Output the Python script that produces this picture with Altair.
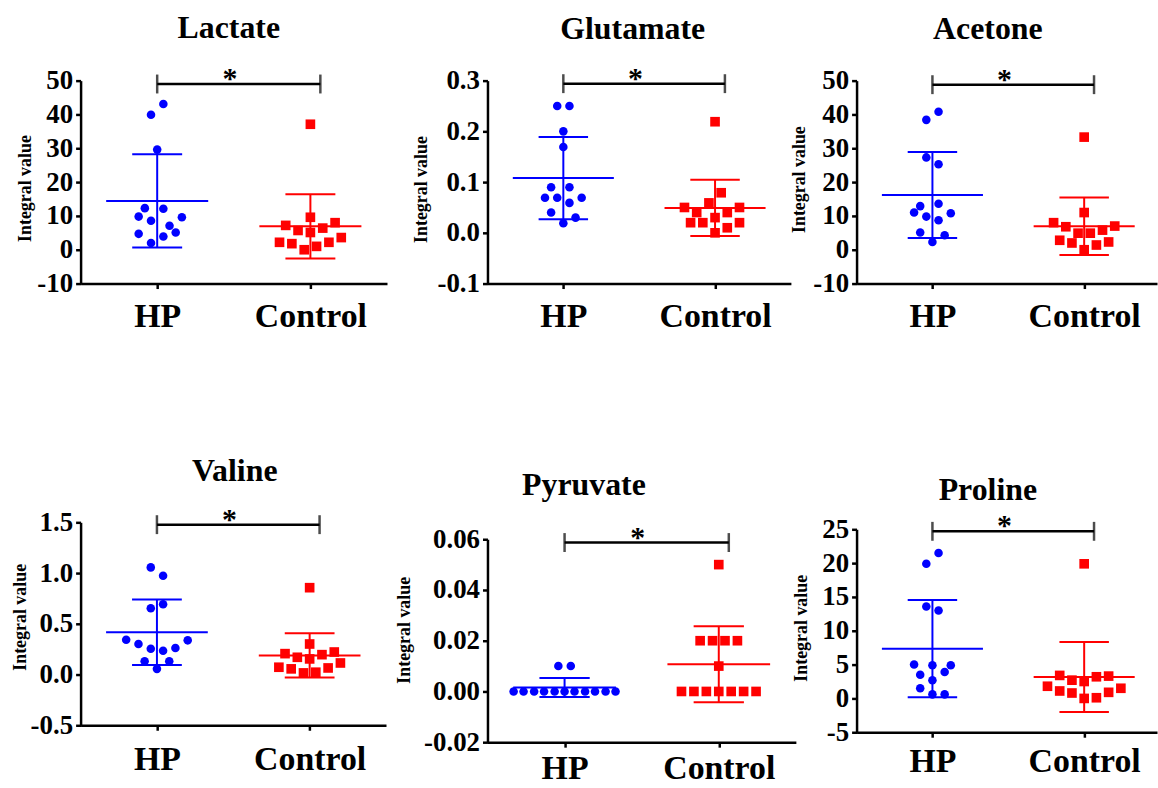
import altair as alt
import pandas as pd

# ---------------------------------------------------------------- groups
GROUPS = ["HP", "Control"]
GROUP_POS = [0.5, 1.5]

# ---------------------------------------------------------------- panel titles
titles = ["Lactate", "Glutamate", "Acetone", "Valine", "Pyruvate", "Proline"]

# ---------------------------------------------------------------- measurements
# each value comes with a swarm lane (horizontal slot of the dot around its group)
lactate_hp = [43.1, 39.9, 29.6, 12.3, 12.1, 9.8, 9.6, 8.6, 7.1, 4.7, 5.1, 3.9, 2.0]
lactate_hp_lane = [1, -1, 0, -2, 1, -3, 4, -1, 2, -3, 3, 1, -1]
lactate_ctl = [37.1, 9.6, 7.2, 8.0, 5.7, 6.4, 5.1, 2.2, 1.8, 2.2, 3.6, 0.0, 1.0]
lactate_ctl_lane = [0, 0, -4, 4, -2, 2, 0, -5, -3, 3, 5, -1, 1]

glutamate_hp = [0.250, 0.250, 0.200, 0.169, 0.090, 0.090, 0.069, 0.069, 0.069, 0.059, 0.040, 0.030, 0.019]
glutamate_hp_lane = [-1, 1, 0, 0, -2, 1, -3, -1, 3, 1, -2, 2, 0]
glutamate_ctl = [0.219, 0.079, 0.059, 0.050, 0.050, 0.040, 0.040, 0.030, 0.020, 0.020, 0.020, 0.010, 0.000]
glutamate_ctl_lane = [0, 1, -1, -5, 4, -3, 2, 0, -4, -2, 4, 2, 0]

acetone_hp = [40.8, 38.4, 27.3, 25.3, 12.9, 13.6, 11.0, 10.8, 9.8, 8.7, 5.1, 4.3, 2.3]
acetone_hp_lane = [1, -1, -1, 1, -2, 1, -3, 3, -1, 1, -2, 2, 0]
acetone_ctl = [33.3, 11.0, 8.0, 6.8, 7.0, 5.8, 4.9, 4.9, 2.8, 2.3, 2.0, 1.4, 0.0]
acetone_ctl_lane = [0, 0, -5, -3, 5, 3, -1, 1, -4, 4, -2, 2, 0]

valine_hp = [1.056, 0.974, 0.654, 0.693, 0.343, 0.337, 0.301, 0.261, 0.255, 0.235, 0.131, 0.131, 0.056]
valine_hp_lane = [-1, 1, -1, 1, -5, 5, -3, 3, -1, 1, -2, 2, 0]
valine_ctl = [0.856, 0.301, 0.206, 0.222, 0.170, 0.196, 0.154, 0.114, 0.072, 0.056, 0.065, 0.016, 0.023]
valine_ctl_lane = [0, 0, -4, 4, -2, 2, 0, 5, -5, -3, 3, -1, 1]

pyruvate_hp = [0.010, 0.010, 0.000, 0.000, 0.000, 0.000, 0.000, 0.000, 0.000, 0.000, 0.000, 0.000, 0.000]
pyruvate_hp_lane = [-1, 1, -8.2, -6.6, -4.9, -3.3, -1.6, 0, 1.6, 3.3, 4.9, 6.6, 8.2]
pyruvate_ctl = [0.050, 0.020, 0.020, 0.020, 0.020, 0.010, 0.000, 0.000, 0.000, 0.000, 0.000, 0.000, 0.000]
pyruvate_ctl_lane = [0, -3, -1, 1, 3, 0, -6, -4, -2, 0, 2, 4, 6]

proline_hp = [21.5, 19.9, 13.6, 13.0, 5.0, 4.9, 4.9, 3.5, 3.9, 2.7, 1.5, 0.6, 0.6]
proline_hp_lane = [1, -1, -1, 1, -3, 0, 3, -2, 2, 0, -2, 0, 2]
proline_ctl = [19.9, 3.4, 2.7, 3.2, 3.3, 2.5, 1.8, 1.1, 0.8, 0.9, 1.5, 0.0, 0.1]
proline_ctl_lane = [0, -4, -2, 2, 4, 0, -6, -4, -2, 4, 6, 0, 2]

# ---------------------------------------------------------------- y tick labels
lactate_ticks = [-10, 0, 10, 20, 30, 40, 50]
glutamate_ticks = [-0.1, 0.0, 0.1, 0.2, 0.3]
acetone_ticks = [-10, 0, 10, 20, 30, 40, 50]
valine_ticks = [-0.5, 0.0, 0.5, 1.0, 1.5]
pyruvate_ticks = [-0.02, 0.0, 0.02, 0.04, 0.06]
proline_ticks = [-5, 0, 5, 10, 15, 20, 25]

# significance bracket: height per panel and its label
bracket_levels = [49.0, 0.294, 48.8, 1.477, 0.0587, 24.7]
bracket_x = [0.5, 1.565]
star_x = 0.975
sig_label = "*"

# ---------------------------------------------------------------- styling
FONT = "Liberation Serif"
COLORS = ["#0000ff", "#ff0000"]
SHAPES = ["circle", "square"]
SIZES = [74, 94]
LANE = 0.0403        # x-units per swarm lane
MEAN_HALF = 0.333    # half width of the mean line (x-units)
CAP_HALF = 0.163     # half width of the SD caps (x-units)

# outer bounds of the three columns and two rows (px); columns overlap a little
COL_BOUNDS = [(0, 400), (370, 810), (780, 1158)]
ROW_BOUNDS = [(0, 350), (350, None)]

PANELS = [
    dict(hp=lactate_hp, hp_lane=lactate_hp_lane, ctl=lactate_ctl, ctl_lane=lactate_ctl_lane,
         ticks=lactate_ticks, fmt="d", box=(75, 79, 308, 204), col=0, row=0, xmax=2.0,
         title_at=(149, -43), ytitle_at=(-50, 108), xlabel_pad=38),
    dict(hp=glutamate_hp, hp_lane=glutamate_hp_lane, ctl=glutamate_ctl, ctl_lane=glutamate_ctl_lane,
         ticks=glutamate_ticks, fmt=".1f", box=(484, 78, 305, 204), col=1, row=0, xmax=2.0,
         title_at=(146, -42), ytitle_at=(-61, 109), xlabel_pad=38),
    dict(hp=acetone_hp, hp_lane=acetone_hp_lane, ctl=acetone_ctl, ctl_lane=acetone_ctl_lane,
         ticks=acetone_ticks, fmt="d", box=(855, 78, 302, 204), col=2, row=0, xmax=1.98,
         title_at=(132, -42), ytitle_at=(-52, 99), xlabel_pad=38),
    dict(hp=valine_hp, hp_lane=valine_hp_lane, ctl=valine_ctl, ctl_lane=valine_ctl_lane,
         ticks=valine_ticks, fmt=".1f", box=(81, 523, 307, 204), col=0, row=1, xmax=2.0,
         title_at=(155, -42), ytitle_at=(-55, 95), xlabel_pad=39),
    dict(hp=pyruvate_hp, hp_lane=pyruvate_hp_lane, ctl=pyruvate_ctl, ctl_lane=pyruvate_ctl_lane,
         ticks=pyruvate_ticks, fmt=".2f", box=(484, 539, 310, 204), col=1, row=1, xmax=2.0,
         title_at=(97, -44), ytitle_at=(-78, 91), xlabel_pad=31),
    dict(hp=proline_hp, hp_lane=proline_hp_lane, ctl=proline_ctl, ctl_lane=proline_ctl_lane,
         ticks=proline_ticks, fmt="d", box=(855, 529, 302, 204), col=2, row=1, xmax=1.98,
         title_at=(132, -29), ytitle_at=(-50, 99), xlabel_pad=34),
]

one_row = pd.DataFrame({"k": [0]})


def make_panel(p, name, bracket):
    df = pd.DataFrame({
        "group": [GROUPS[0]] * len(p["hp"]) + [GROUPS[1]] * len(p["ctl"]),
        "value": p["hp"] + p["ctl"],
        "lane": p["hp_lane"] + p["ctl_lane"],
    })
    df["pos"] = df["group"].map(dict(zip(GROUPS, GROUP_POS)))
    df["x"] = df["pos"] + df["lane"] * LANE

    left, top, w, h = p["box"]
    ticks = p["ticks"]

    xs = alt.Scale(domain=[0, p["xmax"]], nice=False, zero=False)
    ys = alt.Scale(domain=[ticks[0], ticks[-1]], nice=False, zero=False)
    xaxis = alt.Axis(
        values=GROUP_POS, labelExpr="datum.value < 1 ? 'HP' : 'Control'", title=None,
        labelFont=FONT, labelFontSize=34, labelFontWeight="bold", labelColor="black",
        labelBaseline="alphabetic", labelPadding=p["xlabel_pad"],
        tickSize=5, tickWidth=2.5, tickColor="black",
        domainColor="black", domainWidth=2.5, grid=False, labelOverlap=False, labelFlush=False,
    )
    yaxis = alt.Axis(
        values=ticks,
        labelExpr=f"(datum.value < 0 ? '-' : '') + format(abs(datum.value), '{p['fmt']}')",
        title="Integral value", titleX=p["ytitle_at"][0], titleY=p["ytitle_at"][1],
        titleAlign="center", titleBaseline="alphabetic",
        titleFont=FONT, titleFontSize=18, titleFontWeight="bold", titleColor="black",
        labelFont=FONT, labelFontSize=27, labelFontWeight="bold", labelColor="black",
        labelPadding=3, tickSize=5, tickWidth=2.5, tickColor="black",
        domainColor="black", domainWidth=2.5, grid=False, labelOverlap=False, labelFlush=False,
    )

    def X(f):
        return alt.X(f, type="quantitative", scale=xs, axis=xaxis)

    def Y(f):
        return alt.Y(f, type="quantitative", scale=ys, axis=yaxis)

    color = alt.Color("group:N", scale=alt.Scale(domain=GROUPS, range=COLORS), legend=None)

    # invisible frame fixing the panel's outer bounds inside the grid
    col_l, col_r = COL_BOUNDS[p["col"]]
    row_t, row_b = ROW_BOUNDS[p["row"]]
    frame = alt.Chart(one_row).mark_rect(opacity=0).encode(
        x=alt.value(col_l - left), x2=alt.value(col_r - left),
        y=alt.value(row_t - top), y2=alt.value((row_b - top) if row_b else h + 1),
    )

    title = alt.Chart(one_row).mark_text(
        text=name, font=FONT, fontWeight="bold", fontSize=32,
        align="center", baseline="alphabetic", color="black",
    ).encode(x=alt.value(p["title_at"][0]), y=alt.value(p["title_at"][1]))

    # significance bracket
    br = pd.DataFrame({"x1": [bracket_x[0]], "x2": [bracket_x[1]], "y": [bracket]})
    br_ends = pd.DataFrame({"x": bracket_x, "y": [bracket, bracket]})
    br_star = pd.DataFrame({"x": [star_x], "y": [bracket], "t": [sig_label]})
    bracket_line = alt.Chart(br).mark_rule(color="black", strokeWidth=2.5).encode(
        x=X("x1"), x2=alt.X2("x2"), y=Y("y"))
    bracket_ends = alt.Chart(br_ends).mark_tick(
        color="black", orient="vertical", size=19, thickness=2.5).encode(x=X("x"), y=Y("y"))
    star = alt.Chart(br_star).mark_text(
        font=FONT, fontWeight="bold", fontSize=30, align="center",
        baseline="alphabetic", dy=4, color="black").encode(x=X("x"), y=Y("y"), text="t:N")

    # mean and standard deviation per group
    stats = alt.Chart(df).transform_aggregate(
        mean="mean(value)", sd="stdev(value)", groupby=["group", "pos"]
    ).transform_calculate(
        lo="datum.mean - datum.sd", hi="datum.mean + datum.sd",
        ml=f"datum.pos - {MEAN_HALF}", mr=f"datum.pos + {MEAN_HALF}",
        cl=f"datum.pos - {CAP_HALF}", cr=f"datum.pos + {CAP_HALF}",
    )
    mean_line = stats.mark_rule(strokeWidth=2).encode(
        x=X("ml"), x2=alt.X2("mr"), y=Y("mean"), color=color)
    sd_line = stats.mark_rule(strokeWidth=2).encode(
        x=X("pos"), y=Y("lo"), y2=alt.Y2("hi"), color=color)
    cap_hi = stats.mark_rule(strokeWidth=2).encode(
        x=X("cl"), x2=alt.X2("cr"), y=Y("hi"), color=color)
    cap_lo = stats.mark_rule(strokeWidth=2).encode(
        x=X("cl"), x2=alt.X2("cr"), y=Y("lo"), color=color)

    dots = []
    for g, shp, sz, col in zip(GROUPS, SHAPES, SIZES, COLORS):
        dots.append(
            alt.Chart(df[df["group"] == g]).mark_point(
                filled=True, shape=shp, size=sz, opacity=1, color=col
            ).encode(x=X("x"), y=Y("value"))
        )

    return alt.layer(
        frame, title, bracket_line, bracket_ends, star,
        mean_line, sd_line, cap_hi, cap_lo, *dots,
    ).properties(width=w, height=h)


cells = [make_panel(p, n, b) for p, n, b in zip(PANELS, titles, bracket_levels)]

columns = [
    alt.vconcat(cells[c], cells[c + 3], spacing=0) for c in range(3)
]
chart = alt.hconcat(
    *columns, spacing=COL_BOUNDS[1][0] - COL_BOUNDS[0][1]
).configure_view(stroke=None).properties(
    padding=0, background="white", autosize=alt.AutoSizeParams(type="pad")
)

chart.save("out.html", embed_options={"renderer": "svg", "actions": False})
